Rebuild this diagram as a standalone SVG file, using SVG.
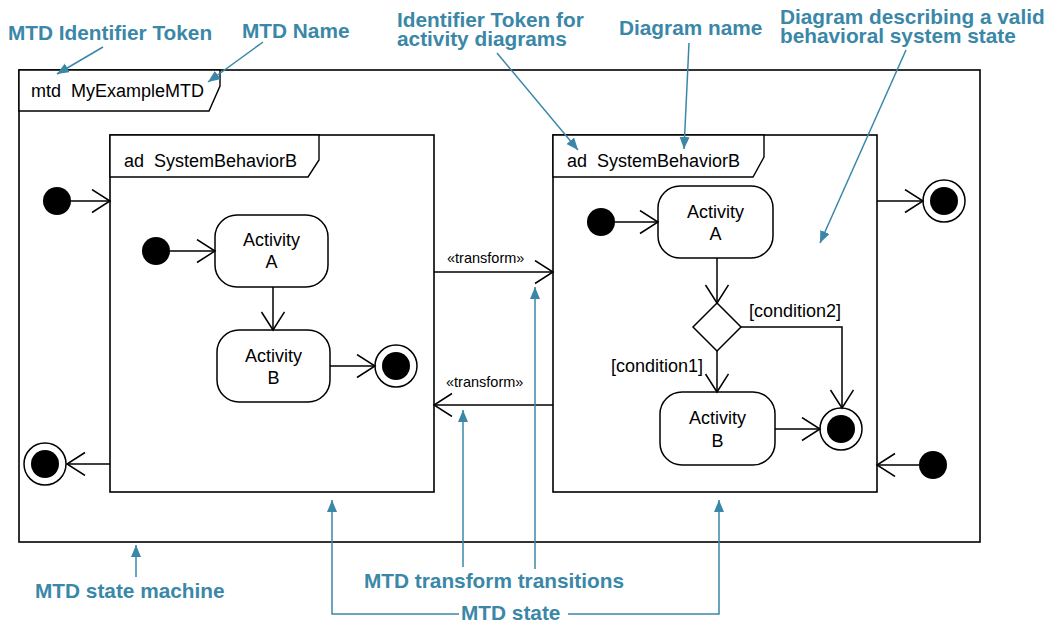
<svg xmlns="http://www.w3.org/2000/svg" width="1052" height="622" viewBox="0 0 1052 622">
<style>
.frame{fill:#fff;stroke:#000;stroke-width:1.6}
.tab{fill:#fff;stroke:#000;stroke-width:1.4}
.act{fill:#fff;stroke:#000;stroke-width:1.5}
.ln{fill:none;stroke:#000;stroke-width:1.5}
.t{font-family:"Liberation Sans",Arial,sans-serif;font-size:18px;fill:#000;white-space:pre}
.tc{font-family:"Liberation Sans",Arial,sans-serif;font-size:18px;fill:#000;text-anchor:middle}
.ts{font-family:"Liberation Sans",Arial,sans-serif;font-size:14.5px;fill:#000}
.ann{font-family:"Liberation Sans",Arial,sans-serif;font-size:20.8px;font-weight:bold;fill:#3a87a8}
.bl{fill:none;stroke:#3a87a8;stroke-width:1.5}
</style>
<defs>
<marker id="open" markerUnits="userSpaceOnUse" markerWidth="24" markerHeight="28" refX="19" refY="12" orient="auto">
<path d="M1,0.5 L19,12 L1,23.5" fill="none" stroke="#000" stroke-width="1.5"/>
</marker>
<marker id="blue" markerUnits="userSpaceOnUse" markerWidth="14" markerHeight="12" refX="12" refY="5" orient="auto">
<path d="M0,0 L12,5 L0,10 z" fill="#3a87a8"/>
</marker>
</defs>
<rect width="1052" height="622" fill="#fff"/>

<g id="mtd-frame">
<rect class="frame" x="19" y="70" width="961" height="472"/>
<polygon class="tab" points="19,70 220,70 220,86 209,111 19,111"/>
<text class="t" x="31" y="97" xml:space="preserve">mtd  MyExampleMTD</text>
</g>

<g id="state-left">
<rect class="frame" x="110" y="135" width="324" height="357"/>
<polygon class="tab" points="110,135 319,135 319,160 308,177 110,177"/>
<text class="t" x="124" y="167" xml:space="preserve">ad  SystemBehaviorB</text>
</g>

<g id="state-right">
<rect class="frame" x="553" y="135" width="324" height="357"/>
<polygon class="tab" points="553,135 764,135 764,157 753,177 553,177"/>
<text class="t" x="567" y="167" xml:space="preserve">ad  SystemBehaviorB</text>
</g>

<g id="outer-initial"><circle cx="57" cy="201" r="14" fill="#000"/></g>
<g id="outer-final-left"><circle cx="45" cy="464" r="21" fill="#fff" stroke="#000" stroke-width="1.5"/><circle cx="45" cy="464" r="14" fill="#000"/></g>
<g id="outer-final-right"><circle cx="944" cy="201" r="21" fill="#fff" stroke="#000" stroke-width="1.5"/><circle cx="944" cy="201" r="14" fill="#000"/></g>
<g id="outer-initial-right"><circle cx="933" cy="465" r="14" fill="#000"/></g>

<g id="left-initial"><circle cx="156" cy="251" r="14" fill="#000"/></g>
<g id="left-activity-a"><rect class="act" x="215" y="215" width="113" height="72" rx="22"/><text class="tc" x="271.5" y="246">Activity</text><text class="tc" x="271.5" y="268">A</text></g>
<g id="left-activity-b"><rect class="act" x="217" y="330" width="113" height="72" rx="22"/><text class="tc" x="273.5" y="362">Activity</text><text class="tc" x="273.5" y="384">B</text></g>
<g id="left-final"><circle cx="396" cy="366" r="21" fill="#fff" stroke="#000" stroke-width="1.5"/><circle cx="396" cy="366" r="14" fill="#000"/></g>

<g id="right-initial"><circle cx="601" cy="222" r="14" fill="#000"/></g>
<g id="right-activity-a"><rect class="act" x="658" y="186" width="115" height="72" rx="22"/><text class="tc" x="715.5" y="218">Activity</text><text class="tc" x="715.5" y="240">A</text></g>
<g id="right-decision"><polygon class="act" points="717,303 741,327 717,351 693,327"/></g>
<g id="right-activity-b"><rect class="act" x="660" y="392" width="115" height="73" rx="22"/><text class="tc" x="717.5" y="424">Activity</text><text class="tc" x="717.5" y="447">B</text></g>
<g id="right-final"><circle cx="841" cy="429" r="21" fill="#fff" stroke="#000" stroke-width="1.5"/><circle cx="841" cy="429" r="14" fill="#000"/></g>

<g id="connectors">
<line class="ln" x1="71" y1="201" x2="110" y2="201" marker-end="url(#open)"/>
<line class="ln" x1="110" y1="464" x2="67" y2="464" marker-end="url(#open)"/>
<line class="ln" x1="877" y1="201" x2="923" y2="201" marker-end="url(#open)"/>
<line class="ln" x1="919" y1="465" x2="877" y2="465" marker-end="url(#open)"/>
<line class="ln" x1="170" y1="251" x2="215" y2="251" marker-end="url(#open)"/>
<line class="ln" x1="273" y1="287" x2="273" y2="330" marker-end="url(#open)"/>
<line class="ln" x1="330" y1="366" x2="375" y2="366" marker-end="url(#open)"/>
<line class="ln" x1="434" y1="272" x2="553" y2="272" marker-end="url(#open)"/>
<text class="ts" x="447" y="263">«transform»</text>
<line class="ln" x1="553" y1="405" x2="434" y2="405" marker-end="url(#open)"/>
<text class="ts" x="446" y="387">«transform»</text>
<line class="ln" x1="615" y1="222" x2="658" y2="222" marker-end="url(#open)"/>
<line class="ln" x1="717" y1="258" x2="717" y2="303" marker-end="url(#open)"/>
<line class="ln" x1="717" y1="351" x2="717" y2="392" marker-end="url(#open)"/>
<text class="t" x="611" y="372">[condition1]</text>
<polyline class="ln" points="741,327 842,327 842,408" marker-end="url(#open)"/>
<text class="t" x="749" y="317">[condition2]</text>
<line class="ln" x1="775" y1="429" x2="820" y2="429" marker-end="url(#open)"/>
</g>

<g id="annotations">
<text class="ann" x="8" y="40">MTD Identifier Token</text>
<line class="bl" x1="103" y1="47" x2="57" y2="74" marker-end="url(#blue)"/>
<text class="ann" x="242" y="38">MTD Name</text>
<line class="bl" x1="263" y1="42" x2="208" y2="82" marker-end="url(#blue)"/>
<text class="ann" x="397" y="27">Identifier Token for</text>
<text class="ann" x="397" y="46">activity diagrams</text>
<line class="bl" x1="497" y1="53" x2="578" y2="150" marker-end="url(#blue)"/>
<text class="ann" x="619" y="35">Diagram name</text>
<line class="bl" x1="689" y1="43" x2="684" y2="149" marker-end="url(#blue)"/>
<text class="ann" x="780" y="24">Diagram describing a valid</text>
<text class="ann" x="780" y="43">behavioral system state</text>
<line class="bl" x1="906" y1="50" x2="820" y2="243" marker-end="url(#blue)"/>
<text class="ann" x="35" y="598">MTD state machine</text>
<line class="bl" x1="136" y1="577" x2="136" y2="545" marker-end="url(#blue)"/>
<text class="ann" x="364" y="588">MTD transform transitions</text>
<line class="bl" x1="463" y1="567" x2="463" y2="410" marker-end="url(#blue)"/>
<line class="bl" x1="535" y1="569" x2="535" y2="287" marker-end="url(#blue)"/>
<text class="ann" x="461" y="620">MTD state</text>
<polyline class="bl" points="459,614 332,614 332,500" marker-end="url(#blue)"/>
<polyline class="bl" points="568,614 719,614 719,500" marker-end="url(#blue)"/>
</g>
</svg>
